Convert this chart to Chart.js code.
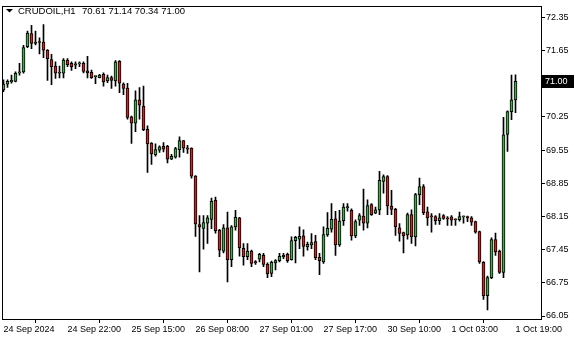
<!DOCTYPE html>
<html>
<head>
<meta charset="utf-8">
<script src="https://cdn.jsdelivr.net/npm/chart.js@4.4.1/dist/chart.umd.min.js"></script>
<style>
  html,body{margin:0;padding:0;background:#fff;}
  #wrap{width:580px;height:340px;}
</style>
</head>
<body>
<div id="wrap"><canvas id="chart" width="580" height="340"></canvas></div>
<script>
const SYMBOL = 'CRUDOIL,H1';

// hourly candles, oldest first
const OPEN = [70.82,70.94,70.99,71.00,71.18,71.20,71.73,72.01,71.80,71.83,
  71.83,71.66,71.46,71.32,71.17,71.17,71.45,71.38,71.34,71.37,
  71.38,71.22,71.19,71.10,71.08,71.15,71.01,71.08,71.01,71.42,
  70.94,70.86,70.25,70.12,70.61,70.48,69.99,69.70,69.45,69.55,
  69.63,69.63,69.36,69.40,69.56,69.75,69.60,69.59,69.00,67.98,
  67.90,68.01,68.09,68.49,67.86,67.42,67.91,67.24,67.93,68.12,
  67.48,67.30,67.42,67.20,67.25,67.33,67.14,66.95,67.17,67.22,
  67.30,67.35,67.24,67.64,67.67,67.74,67.51,67.55,67.62,67.29,
  67.19,67.76,67.88,68.10,67.55,68.06,68.33,68.28,67.74,68.07,
  68.16,68.01,68.40,68.22,68.29,68.89,68.99,68.37,68.30,67.91,
  67.81,67.76,68.19,67.72,68.61,68.78,68.25,68.15,68.15,68.06,
  68.17,68.12,68.14,68.08,68.08,68.14,68.15,68.12,68.04,67.83,
  67.18,66.48,66.86,67.66,67.42,66.97,69.88,70.36,70.61];
const HIGH = [71.03,71.03,71.13,71.20,71.38,71.76,72.06,72.18,72.06,71.92,
  72.20,71.67,71.57,71.41,71.32,71.48,71.48,71.41,71.41,71.41,
  71.41,71.53,71.24,71.11,71.15,71.18,71.13,71.11,71.44,71.44,
  70.97,70.96,70.27,70.80,70.87,70.90,70.06,69.71,69.68,69.64,
  69.71,69.65,69.46,69.61,69.83,69.75,69.65,69.60,69.01,68.17,
  68.17,68.17,68.54,68.56,67.88,67.98,68.24,67.96,68.28,68.13,
  67.58,67.58,67.44,67.22,67.37,67.37,67.17,67.21,67.24,67.37,
  67.37,67.38,67.72,67.73,67.93,67.87,67.61,67.79,67.75,67.37,
  67.93,68.23,68.42,68.26,68.28,68.42,68.42,68.31,68.08,68.21,
  68.73,68.50,68.42,68.35,69.10,69.03,69.01,68.70,68.32,68.00,
  67.82,68.22,68.29,68.64,68.96,68.82,68.35,68.21,68.17,68.21,
  68.19,68.15,68.17,68.10,68.24,68.16,68.16,68.15,68.05,67.84,
  67.20,66.89,67.70,67.80,67.44,70.24,70.38,71.13,71.14];
const LOW = [70.78,70.87,70.96,70.99,71.13,71.17,71.71,71.69,71.77,71.58,
  71.50,71.02,70.93,71.06,71.07,71.07,71.31,71.23,71.27,71.31,
  71.18,71.07,71.06,70.95,71.07,70.90,70.97,70.85,70.90,70.76,
  70.72,70.20,69.69,69.94,70.20,69.96,69.08,69.25,69.42,69.50,
  69.51,69.28,69.35,69.38,69.40,69.50,69.48,68.96,67.73,66.98,
  67.46,67.58,67.89,67.80,67.30,67.38,66.77,67.09,67.86,67.31,
  67.12,67.24,67.09,67.14,67.19,67.09,66.86,66.88,67.02,67.19,
  67.26,67.18,67.23,67.17,67.47,67.31,67.44,67.47,67.24,66.92,
  67.16,67.73,67.82,67.33,67.52,67.96,68.26,67.65,67.70,67.96,
  67.86,67.91,68.17,68.21,68.19,68.64,68.19,68.19,67.75,67.63,
  67.38,67.67,67.58,67.53,68.40,68.19,67.96,67.82,67.98,67.98,
  68.09,67.96,67.96,67.96,68.05,68.01,68.04,67.96,67.80,67.16,
  66.40,66.18,66.84,67.33,66.95,66.86,69.52,70.19,70.34];
const CLOSE = [70.94,71.00,71.02,71.17,71.20,71.71,72.02,71.80,71.83,71.82,
  71.66,71.48,71.31,71.17,71.17,71.45,71.35,71.31,71.37,71.37,
  71.21,71.18,71.08,71.10,71.13,70.99,71.08,71.02,71.41,70.96,
  70.85,70.24,70.12,70.61,70.50,69.98,69.68,69.47,69.56,69.62,
  69.57,69.36,69.42,69.58,69.75,69.59,69.57,69.00,67.99,67.93,
  68.02,68.12,68.47,67.85,67.44,67.91,67.24,67.93,68.13,67.49,
  67.30,67.42,67.16,67.17,67.35,67.14,66.94,67.18,67.22,67.31,
  67.33,67.22,67.64,67.71,67.73,67.52,67.56,67.60,67.28,67.22,
  67.77,67.90,68.09,67.55,68.05,68.35,68.36,67.74,68.04,68.17,
  68.01,68.38,68.19,68.29,68.91,68.99,68.37,68.30,67.93,67.79,
  67.74,68.19,67.72,68.61,68.78,68.23,68.12,68.14,68.06,68.12,
  68.11,68.10,68.07,68.08,68.15,68.14,68.12,68.03,67.82,67.19,
  66.48,66.86,67.66,67.40,66.97,69.87,70.36,70.61,71.00];

const PRICE_TICKS = [72.35,71.65,70.95,70.25,69.55,68.85,68.15,67.45,66.75,66.05];
const PRICE_MIN = 65.987, PRICE_MAX = 72.581;
const TIME_TICK_BARS = [0,16,32,48,64,80,96,112,128];
const TIME_LABELS = ['24 Sep 2024','24 Sep 22:00','25 Sep 15:00','26 Sep 08:00','27 Sep 01:00',
  '27 Sep 17:00','30 Sep 10:00','1 Oct 03:00','1 Oct 19:00'];

const BULL = '#3cb043', BEAR = '#dc1e1e';
const FONT = { family:'"Liberation Sans", Arial, sans-serif', size:9 };
const HEAD_SIZE = 9.5;

const n = CLOSE.length;
const last = n - 1;
const wicks = CLOSE.map((c,i) => ({ x:i, y:[LOW[i], HIGH[i]] }));
const bodies = CLOSE.map((c,i) => ({ x:i, y:[Math.min(OPEN[i],c), Math.max(OPEN[i],c)] }));
const bodyColors = CLOSE.map((c,i) => c >= OPEN[i] ? BULL : BEAR);

const mtPlugin = {
  id:'mt',
  afterDraw(chart){
    const ctx = chart.ctx, a = chart.chartArea;
    ctx.save();
    // frame
    ctx.strokeStyle = '#000'; ctx.lineWidth = 1;
    ctx.strokeRect(Math.floor(a.left)+0.5, Math.floor(a.top)+0.5, Math.round(a.right-a.left), Math.round(a.bottom-a.top));
    // header
    ctx.fillStyle = '#000';
    ctx.beginPath(); ctx.moveTo(6,9); ctx.lineTo(13,9); ctx.lineTo(9.5,12.5); ctx.closePath(); ctx.fill();
    ctx.font = HEAD_SIZE + 'px ' + FONT.family;
    ctx.textBaseline = 'middle'; ctx.textAlign = 'left';
    ctx.fillText(SYMBOL, 18, 11);
    const vals = [OPEN[last], HIGH[last], LOW[last], CLOSE[last]].map(v => v.toFixed(2)).join(' ');
    ctx.fillText(vals, 82, 11);
    // current price marker
    ctx.font = FONT.size + 'px ' + FONT.family;
    const y = Math.round(chart.scales.y.getPixelForValue(CLOSE[last]));
    ctx.fillStyle = '#000';
    ctx.fillRect(542, y-6, 32, 13);
    ctx.fillStyle = '#fff';
    ctx.fillText(CLOSE[last].toFixed(2), 545, y+0.5);
    ctx.restore();
  }
};

new Chart(document.getElementById('chart'), {
  type:'bar',
  data:{
    datasets:[
      { data:bodies, backgroundColor:bodyColors, borderColor:'#000', borderWidth:1, borderSkipped:false,
        barThickness:3, minBarLength:1, grouped:false, order:0 },
      { data:wicks, backgroundColor:'#000', borderWidth:0, barThickness:1, grouped:false, order:1 }
    ]
  },
  options:{
    responsive:false,
    animation:false,
    layout:{ padding:{ left:2, top:5, right:0, bottom:0 } },
    plugins:{ legend:{display:false}, tooltip:{enabled:false} },
    scales:{
      x:{
        type:'linear', min:-0.375, max:134.375, offset:false,
        grid:{ display:true, drawOnChartArea:false, drawTicks:true, tickLength:4, color:'#000' },
        border:{ display:false },
        ticks:{ autoSkip:false, maxRotation:0, align:'start', padding:1, color:'#000', font:FONT,
          callback:(v,i) => TIME_LABELS[i] },
        afterBuildTicks:s => { s.ticks = TIME_TICK_BARS.map(v => ({value:v})); },
        afterFit:s => { s.height = 21; }
      },
      y:{
        position:'right', min:PRICE_MIN, max:PRICE_MAX,
        grid:{ display:true, drawOnChartArea:false, drawTicks:true, tickLength:4, color:'#000' },
        border:{ display:false },
        ticks:{ padding:1, color:'#000', font:FONT, callback:v => v.toFixed(2) },
        afterBuildTicks:s => { s.ticks = PRICE_TICKS.map(v => ({value:v})); },
        afterFit:s => { s.width = 39; }
      }
    }
  },
  plugins:[mtPlugin]
});
</script>
</body>
</html>
